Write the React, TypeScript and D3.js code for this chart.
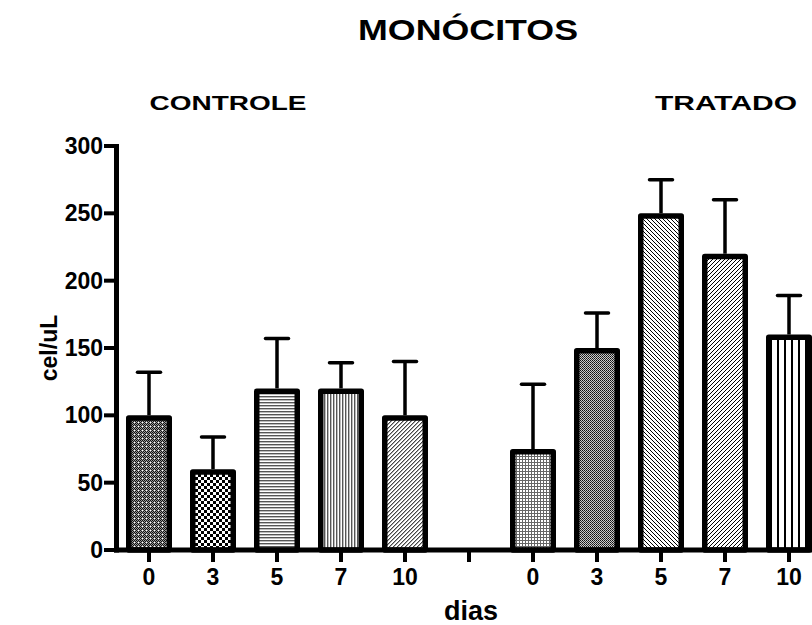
import React, { useEffect, useRef } from 'react';
import * as d3 from 'd3';

const groups = ['CONTROLE', 'TRATADO'];
const dayLabels = ['0', '3', '5', '7', '10'];
const controleMeans = [100, 60, 120, 120, 100];
const controleErrors = [32, 24, 37, 19, 40];
const tratadoMeans = [75, 150, 250, 220, 160];
const tratadoErrors = [48, 26, 25, 40, 29];
const yTicks = [0, 50, 100, 150, 200, 250, 300];
const patternIds = ['pC0', 'pC3', 'pC5', 'pC7', 'pC10', 'pT0', 'pT3', 'pT5', 'pT7', 'pT10'];

const W = 812;
const H = 625;

export default function App() {
  const ref = useRef<SVGSVGElement>(null);

  useEffect(() => {
    const svg = d3.select(ref.current);
    svg.selectAll('*').remove();
    const font = "'Liberation Sans', Arial, sans-serif";

    // slots: 5 controle, 1 empty gap, 5 tratado
    const slots = [
      ...dayLabels.map((d, i) => ({ key: 'c' + i, label: d, v: controleMeans[i], e: controleErrors[i], p: patternIds[i] })),
      { key: 'gap', label: '', v: 0, e: 0, p: '' },
      ...dayLabels.map((d, i) => ({ key: 't' + i, label: d, v: tratadoMeans[i], e: tratadoErrors[i], p: patternIds[5 + i] })),
    ];

    const x = d3.scaleBand().domain(slots.map(s => s.key)).range([117, 117 + 64 * 11]).paddingInner(0.28).paddingOuter(0.14);
    const y = d3.scaleLinear().domain([0, 300]).range([550, 146]);

    // patterns
    const defs = svg.append('defs');
    const pat = (id: string, w: number, h: number) =>
      defs.append('pattern').attr('id', id).attr('patternUnits', 'userSpaceOnUse').attr('width', w).attr('height', h);
    const px = (p: any, xs: number, ys: number, c = '#000') => p.append('rect').attr('x', xs).attr('y', ys).attr('width', 1).attr('height', 1).attr('fill', c);

    // C0: dense gray dither
    let p = pat('pC0', 4, 4);
    p.append('rect').attr('width', 4).attr('height', 4).attr('fill', '#999');
    [[0, 0], [2, 0], [1, 1], [3, 1], [0, 2], [1, 3], [3, 3]].forEach(([a, b]) => px(p, a, b, '#111'));
    px(p, 2, 2, '#fff');
    // C3: checker
    p = pat('pC3', 6, 6);
    p.append('rect').attr('width', 6).attr('height', 6).attr('fill', '#fff');
    p.append('rect').attr('width', 3).attr('height', 3).attr('fill', '#000');
    p.append('rect').attr('x', 3).attr('y', 3).attr('width', 3).attr('height', 3).attr('fill', '#000');
    // C5: horizontal lines
    p = pat('pC5', 4, 3);
    p.append('rect').attr('width', 4).attr('height', 3).attr('fill', '#fff');
    p.append('rect').attr('y', 0).attr('width', 4).attr('height', 1).attr('fill', '#555');
    p.append('rect').attr('y', 1).attr('width', 4).attr('height', 1).attr('fill', '#bbb');
    // C7: vertical lines
    p = pat('pC7', 3, 4);
    p.append('rect').attr('width', 3).attr('height', 4).attr('fill', '#fff');
    p.append('rect').attr('x', 0).attr('width', 1).attr('height', 4).attr('fill', '#555');
    p.append('rect').attr('x', 1).attr('width', 1).attr('height', 4).attr('fill', '#bbb');
    // C10: fine diagonal
    p = pat('pC10', 4, 4);
    p.append('rect').attr('width', 4).attr('height', 4).attr('fill', '#fff');
    [[3, 0], [2, 1], [1, 2], [0, 3]].forEach(([a, b]) => px(p, a, b, '#444'));
    [[0, 0], [3, 1], [2, 2], [1, 3]].forEach(([a, b]) => px(p, a, b, '#aaa'));
    // T0: grid
    p = pat('pT0', 3, 3);
    p.append('rect').attr('width', 3).attr('height', 3).attr('fill', '#fff');
    p.append('rect').attr('width', 3).attr('height', 1).attr('fill', '#666');
    p.append('rect').attr('width', 1).attr('height', 3).attr('fill', '#666');
    // T3: dense gray dither (darker)
    p = pat('pT3', 2, 2);
    p.append('rect').attr('width', 2).attr('height', 2).attr('fill', '#ccc');
    px(p, 0, 0, '#111');
    px(p, 1, 1, '#333');
    // T5: backslash diagonals
    p = pat('pT5', 4, 4);
    p.append('rect').attr('width', 4).attr('height', 4).attr('fill', '#fff');
    [[0, 0], [1, 1], [2, 2], [3, 3]].forEach(([a, b]) => px(p, a, b, '#000'));
    // T7: slash diagonals
    p = pat('pT7', 4, 4);
    p.append('rect').attr('width', 4).attr('height', 4).attr('fill', '#fff');
    [[3, 0], [2, 1], [1, 2], [0, 3]].forEach(([a, b]) => px(p, a, b, '#000'));
    // T10: spaced vertical lines
    p = pat('pT10', 7, 4);
    p.append('rect').attr('width', 7).attr('height', 4).attr('fill', '#fff');
    p.append('rect').attr('x', 0).attr('width', 2).attr('height', 4).attr('fill', '#000');

    const bw = 46;
    const sw = 5.5;
    const cx = (k: string) => (x(k) as number) + x.bandwidth() / 2;
    const data = slots.filter(s => s.key !== 'gap');

    // error bars
    const eb = svg.append('g').attr('stroke', '#000').attr('stroke-width', 3.5);
    eb.selectAll('line.v').data(data).enter().append('line')
      .attr('x1', d => cx(d.key)).attr('x2', d => cx(d.key))
      .attr('y1', d => y(d.v)).attr('y2', d => y(d.v + d.e));
    eb.selectAll('line.c').data(data).enter().append('line')
      .attr('x1', d => cx(d.key) - 11.5).attr('x2', d => cx(d.key) + 11.5)
      .attr('y1', d => y(d.v + d.e)).attr('y2', d => y(d.v + d.e))
      .attr('stroke-linecap', 'round');

    // bars
    svg.append('g').selectAll('rect').data(data).enter().append('rect')
      .attr('x', d => cx(d.key) - bw / 2 + sw / 2)
      .attr('y', d => y(d.v) + sw / 2)
      .attr('width', bw - sw)
      .attr('height', d => y(0) - y(d.v) - sw / 2)
      .attr('fill', d => `url(#${d.p})`)
      .attr('stroke', '#000').attr('stroke-width', sw)
      .attr('stroke-linejoin', 'round');

    // y axis
    const ya = svg.append('g');
    ya.append('line').attr('x1', 116.5).attr('x2', 116.5).attr('y1', y(300) - 2).attr('y2', 552.5)
      .attr('stroke', '#000').attr('stroke-width', 5);
    ya.selectAll('line.t').data(yTicks).enter().append('line')
      .attr('x1', 104).attr('x2', 117).attr('y1', d => y(d)).attr('y2', d => y(d))
      .attr('stroke', '#000').attr('stroke-width', 4);
    ya.selectAll('text').data(yTicks).enter().append('text')
      .attr('x', 103).attr('y', d => y(d) + 8)
      .attr('text-anchor', 'end').attr('font-family', font).attr('font-weight', 'bold').attr('font-size', 23)
      .text(d => d);

    // x axis
    const xa = svg.append('g');
    xa.append('line').attr('x1', 114).attr('x2', W).attr('y1', 550).attr('y2', 550)
      .attr('stroke', '#000').attr('stroke-width', 5);
    xa.selectAll('line.t').data(slots).enter().append('line')
      .attr('x1', d => cx(d.key)).attr('x2', d => cx(d.key)).attr('y1', 550).attr('y2', 562)
      .attr('stroke', '#000').attr('stroke-width', 4);
    xa.selectAll('text').data(slots).enter().append('text')
      .attr('x', d => cx(d.key)).attr('y', 585)
      .attr('text-anchor', 'middle').attr('font-family', font).attr('font-weight', 'bold').attr('font-size', 23)
      .text(d => d.label);

    // titles
    const txt = (t: string, tx: number, ty: number, size: number, len?: number) => {
      const e = svg.append('text').attr('x', tx).attr('y', ty).attr('text-anchor', 'middle')
        .attr('font-family', font).attr('font-weight', 'bold').attr('font-size', size).text(t);
      if (len) e.attr('textLength', len).attr('lengthAdjust', 'spacingAndGlyphs');
      return e;
    };
    txt('MONÓCITOS', 468, 40, 30, 220);
    txt(groups[0], 228, 110, 21, 157);
    txt(groups[1], 726, 110, 21, 142);
    txt('dias', 471, 620, 27);
    svg.append('text').attr('transform', 'translate(57,348) rotate(-90)').attr('text-anchor', 'middle')
      .attr('font-family', font).attr('font-weight', 'bold').attr('font-size', 23).text('cel/uL');
  }, []);

  return (
    <svg ref={ref} width={W} height={H} style={{ position: 'absolute', left: 0, top: 0, background: '#fff' }} />
  );
}
